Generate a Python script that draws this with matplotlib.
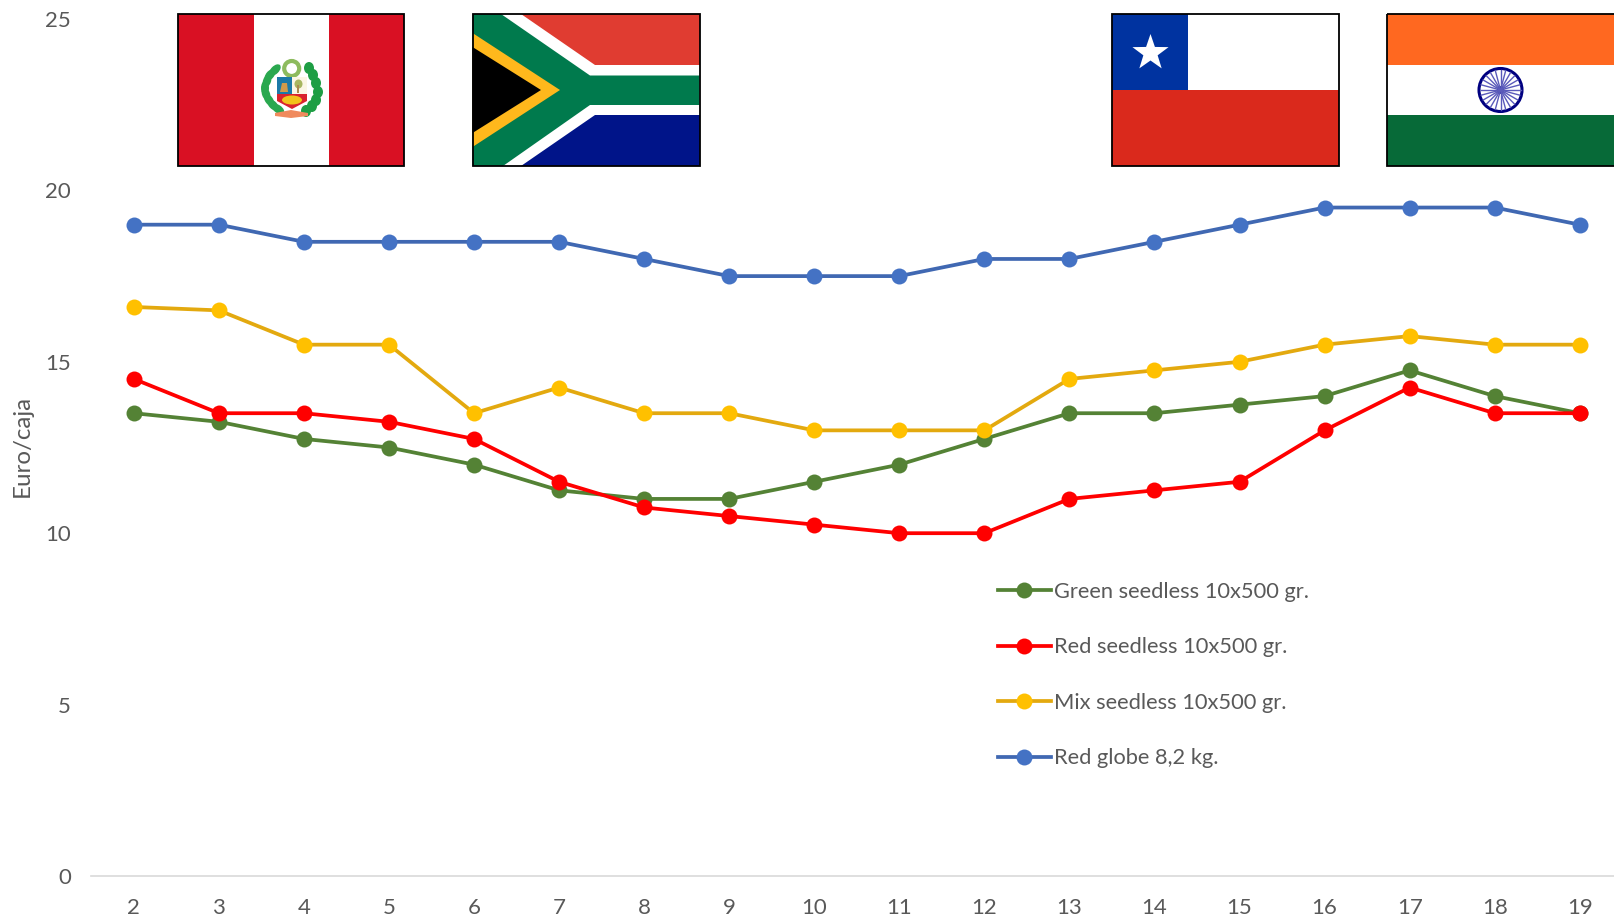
import numpy as np
import matplotlib
matplotlib.use('Agg')
import matplotlib.pyplot as plt
from matplotlib.patches import Rectangle, Polygon, Circle, Ellipse

plt.rcParams['font.family'] = ['Lato', 'DejaVu Sans']

# Data
weeks = [2, 3, 4, 5, 6, 7, 8, 9, 10, 11, 12, 13, 14, 15, 16, 17, 18, 19]
green = [13.5, 13.25, 12.75, 12.5, 12, 11.25, 11, 11, 11.5, 12, 12.75, 13.5, 13.5, 13.75, 14, 14.75, 14, 13.5]
red = [14.5, 13.5, 13.5, 13.25, 12.75, 11.5, 10.75, 10.5, 10.25, 10, 10, 11, 11.25, 11.5, 13, 14.25, 13.5, 13.5]
mix = [16.6, 16.5, 15.5, 15.5, 13.5, 14.25, 13.5, 13.5, 13, 13, 13, 14.5, 14.75, 15, 15.5, 15.75, 15.5, 15.5]
globe = [19, 19, 18.5, 18.5, 18.5, 18.5, 18, 17.5, 17.5, 17.5, 18, 18, 18.5, 19, 19.5, 19.5, 19.5, 19]
y_ticks = [0, 5, 10, 15, 20, 25]
labels = ['Green seedless 10x500 gr.', 'Red seedless 10x500 gr.', 'Mix seedless 10x500 gr.', 'Red globe 8,2 kg.']

W, H = 1614, 917
TEXT = '#595959'

fig = plt.figure(figsize=(W / 100, H / 100), dpi=100)

# Plot area, in pixels: x from 91.3 to 1622.3, y from 19 to 876
ax = fig.add_axes([91.3 / W, (H - 876) / H, 1531 / W, 857 / H])
ax.set_xlim(1.5, 19.5)
ax.set_ylim(0, 25)

series = [(green, '#548235', '#548235'),
          (red, '#FF0000', '#FF0000'),
          (mix, '#E3A90F', '#FFC000'),
          (globe, '#4068B2', '#4472C4')]
handles = []
for values, line_col, dot_col in series:
    h, = ax.plot(weeks, values, color=line_col, linewidth=2.7, marker='o', markersize=11.5,
                 markerfacecolor=dot_col, markeredgecolor=dot_col, markeredgewidth=0, clip_on=False)
    handles.append(h)

for side in ['top', 'right', 'left']:
    ax.spines[side].set_visible(False)
ax.spines['bottom'].set_color('#D9D9D9')
ax.spines['bottom'].set_linewidth(1.2)
ax.set_xticks(weeks)
ax.set_yticks(y_ticks)
ax.tick_params(axis='both', length=0, labelsize=16, labelcolor=TEXT)
ax.tick_params(axis='x', pad=15.5)
ax.tick_params(axis='y', pad=14.5)
fig.text(22.5 / W, 1 - 446 / H, 'Euro/caja', rotation=90, color=TEXT, fontsize=17.4, ha='center', va='center')

ax.legend(handles, labels, loc='upper left', bbox_to_anchor=(998 / W, 1 - 582 / H), bbox_transform=fig.transFigure,
          frameon=False, fontsize=15.75, labelcolor=TEXT, handlelength=2.4, handletextpad=0.15,
          labelspacing=1.62, borderpad=0, borderaxespad=0)

# Overlay in pixel coordinates for the flags
ov = fig.add_axes([0, 0, 1, 1], zorder=5)
ov.set_xlim(0, W)
ov.set_ylim(H, 0)
ov.axis('off')
ov.patch.set_alpha(0)


def rect(x0, y0, x1, y1, col):
    ov.add_patch(Rectangle((x0, y0), x1 - x0, y1 - y0, facecolor=col, edgecolor='none'))


def poly(pts, col):
    ov.add_patch(Polygon(pts, closed=True, facecolor=col, edgecolor='none'))


def leaf(x, y, w, h, angle, col):
    ov.add_patch(Ellipse((x, y), w, h, angle=angle, facecolor=col, edgecolor='none'))


def border(x0, y0, x1, y1):
    ov.add_patch(Rectangle((x0, y0), x1 - x0, y1 - y0, fill=False, edgecolor='black', linewidth=1.3, clip_on=False))


TOP, BOT = 14, 166

# Peru
rect(177.5, TOP, 404, BOT, '#D91023')
rect(253.5, TOP, 329, BOT, 'white')
ov.add_patch(Circle((291.7, 68.5), 7.5, fill=False, edgecolor='#8DBB5E', linewidth=3))
# palm on the left, laurel on the right
palm_x = [275, 270, 267, 265, 266, 269, 273, 278]
palm_y = [70, 75, 81, 88, 94, 100, 105, 109]
palm_a = [-45, -50, -70, -90, 70, 55, 45, 35]
for x, y, a in zip(palm_x, palm_y, palm_a):
    leaf(x, y, 14, 8, a, '#2AA84F')
laurel_x = [309, 313, 316, 318, 316, 312, 306]
laurel_y = [68, 75, 83, 92, 100, 106, 111]
for x, y in zip(laurel_x, laurel_y):
    leaf(x, y, 10, 12, 0, '#1E9E44')
rect(277, 77, 291.5, 94, '#1B79A8')
rect(291.5, 77, 307, 94, '#FBF6E4')
poly([(277, 94), (307, 94), (307, 101), (292, 109), (277, 101)], '#D9232E')
leaf(292, 100, 20, 9, 0, '#F2C21B')
poly([(280, 92), (282, 83), (287, 83), (288, 92)], '#D29A4A')
leaf(298.5, 84, 8, 9, 0, '#A7B65F')
rect(296.5, 85, 298.5, 93, '#A98A4E')
poly([(275, 113), (291, 110), (308, 113), (308, 116), (291, 118), (275, 116)], '#F08A5D')
border(177.5, TOP, 404, BOT)

# South Africa
rect(472.5, TOP, 699.5, BOT, 'white')
poly([(521, TOP), (699.5, TOP), (699.5, 65), (595, 65)], '#E03C31')
poly([(521, BOT), (699.5, BOT), (699.5, 115), (595, 115)], '#001489')
poly([(472.5, TOP), (501, TOP), (590, 75.5), (699.5, 75.5), (699.5, 105), (590, 105), (503, BOT), (472.5, BOT)], '#007A4D')
poly([(472.5, 33), (560, 90), (472.5, 147)], '#FFB81C')
poly([(472.5, 47), (541, 90), (472.5, 133)], 'black')
border(472.5, TOP, 699.5, BOT)

# Chile
rect(1111.5, TOP, 1339, 90, 'white')
rect(1111.5, 90, 1339, BOT, '#DA291C')
rect(1111.5, TOP, 1188, 90, '#0033A0')
ang = np.radians(-90 + 36 * np.arange(10))
rad = np.where(np.arange(10) % 2 == 0, 19, 7.5)
poly(np.column_stack([1150.5 + rad * np.cos(ang), 53 + rad * np.sin(ang)]), 'white')
border(1111.5, TOP, 1339, BOT)

# India
rect(1387, TOP, 1616, 65, '#FF6820')
rect(1387, 65, 1616, 115, 'white')
rect(1387, 115, 1616, BOT, '#076A38')
cx, cy = 1500.5, 90
for a in np.radians(np.arange(0, 360, 15)):
    ov.plot([cx, cx + 20 * np.cos(a)], [cy, cy + 20 * np.sin(a)], color='#5A5ABA', linewidth=1.0)
ov.add_patch(Circle((cx, cy), 21.5, fill=False, edgecolor='#000080', linewidth=2.2))
ov.add_patch(Circle((cx, cy), 3.8, facecolor='#000080', edgecolor='none'))
border(1387, TOP, 1616, BOT)

fig.savefig('out.png', dpi=100)
